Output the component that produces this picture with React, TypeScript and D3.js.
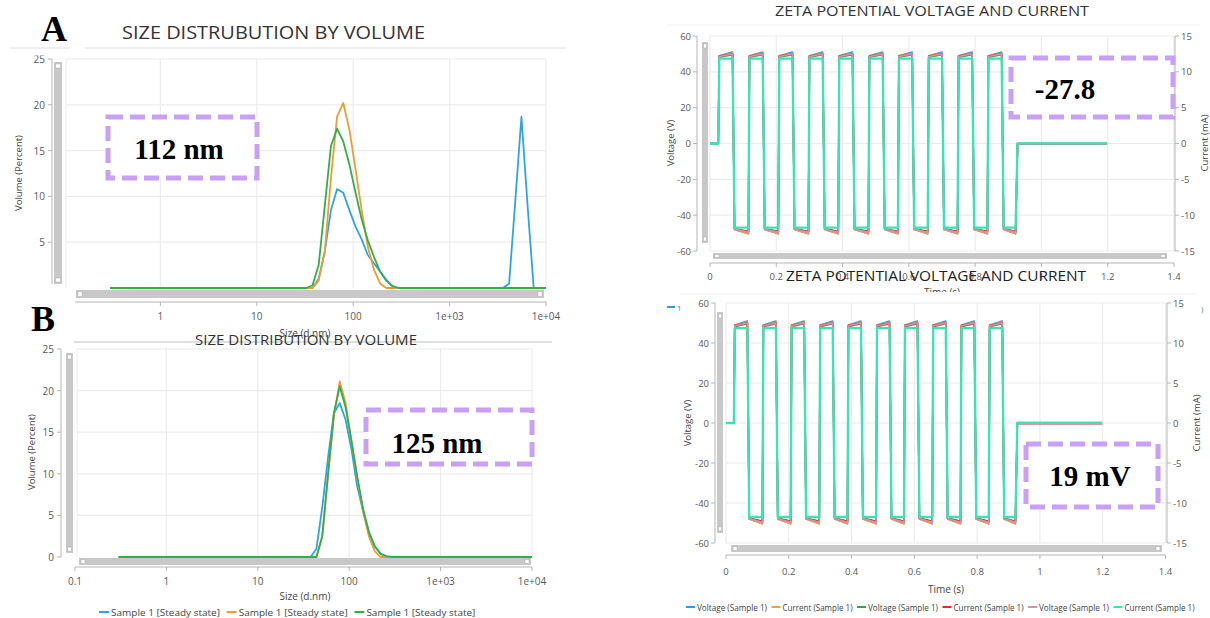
import React from 'react';
import * as d3 from 'd3';

// ---- size distribution by volume (DLS bins, d.nm) ----
const sizeBins = [0.3, 32.67, 37.84, 43.82, 50.75, 58.77, 68.06, 78.82, 91.28, 105.7, 122.4, 141.8, 164.2, 190.1, 220.2, 255.0, 295.3, 3580, 4145, 4801, 5560, 6439, 7456, 8635, 10000];
const volBlueA = [0, 0, 0, 1.0, 4.0, 8.5, 10.8, 10.4, 8.5, 6.7, 5.3, 3.6, 2.7, 1.8, 0.9, 0.2, 0, 0, 0.5, 9.5, 18.7, 9.0, 0, 0, 0];
const volOrangeA = [0, 0, 0, 0.8, 4.0, 12.0, 18.7, 20.2, 17.3, 13.0, 8.5, 4.5, 2.0, 0.5, 0, 0, 0, 0, 0, 0, 0, 0, 0, 0, 0];
const volGreenA = [0, 0, 0.3, 2.5, 9.0, 15.5, 17.4, 16.0, 13.5, 10.4, 7.5, 5.2, 3.4, 1.8, 0.8, 0.2, 0, 0, 0, 0, 0, 0, 0, 0, 0];
const volBlueB = [0, 0, 0, 1.0, 6.0, 12.0, 17.3, 18.5, 16.5, 13.0, 8.5, 5.5, 3.0, 1.3, 0.4, 0, 0, 0, 0, 0, 0, 0, 0, 0, 0];
const volOrangeB = [0, 0, 0, 0, 2.5, 10.0, 17.0, 21.1, 18.5, 14.0, 9.5, 5.5, 2.5, 0.7, 0, 0, 0, 0, 0, 0, 0, 0, 0, 0, 0];
const volGreenB = [0, 0, 0, 0, 2.5, 10.0, 17.3, 20.5, 18.0, 14.0, 9.7, 5.8, 3.0, 1.3, 0.4, 0.1, 0, 0, 0, 0, 0, 0, 0, 0, 0];
const sizeSeriesNames = ['Sample 1 [Steady state]', 'Sample 1 [Steady state]', 'Sample 1 [Steady state]'];
const sizeTicks = [0.1, 1, 10, 100, 1000, 10000];
const sizeTickLabels = ['0.1', '1', '10', '100', '1e+03', '1e+04'];
const volumeTicks = [0, 5, 10, 15, 20, 25];

// ---- zeta potential voltage and current ----
const riseTimes = [0.025, 0.116, 0.206, 0.297, 0.387, 0.478, 0.567, 0.657, 0.747, 0.837];
const fallTimes = [0.068, 0.159, 0.249, 0.340, 0.430, 0.521, 0.610, 0.700, 0.791, 0.880];
const offTime = 0.922;
const settleTime = 0.928;
const stopTime = 1.198;
const riseWidth = 0.003;
const fallWidth = 0.006;
const waveNames = ['Voltage (Sample 1)', 'Current (Sample 1)', 'Voltage (Sample 1)', 'Current (Sample 1)', 'Voltage (Sample 1)', 'Current (Sample 1)'];
const waveAxis = ['V', 'I', 'V', 'I', 'V', 'I'];
const highStart = [49.0, 12.2, 48.2, 12.2, 48.6, 11.85];
const highEnd = [51.0, 12.6, 49.6, 12.5, 50.0, 11.85];
const lowStart = [-48.0, -12.0, -47.6, -11.9, -47.8, -11.75];
const lowEnd = [-50.4, -12.6, -49.2, -12.3, -49.6, -11.75];
const restLevel = [0, 0, 0, -0.08, -0.3, 0.03];
const timeTicks = [0, 0.2, 0.4, 0.6, 0.8, 1, 1.2, 1.4];
const timeTickLabels = ['0', '0.2', '0.4', '0.6', '0.8', '1', '1.2', '1.4'];
const voltTicks = [-60, -40, -20, 0, 20, 40, 60];
const currTicks = [-15, -10, -5, 0, 5, 10, 15];

// ---- styles ----
const FONT = '"Open Sans", "Noto Sans", sans-serif';
const SERIF = '"Liberation Serif", "DejaVu Serif", serif';
const GRID = '#ececec';
const AXIS = '#b5b5b5';
const LABEL = '#595959';
const sizeColors = ['#2ea4e3', '#eb9e35', '#35ad4c'];
const waveColors = ['#2a9ee0', '#f0a040', '#2aa84a', '#e02a2e', '#e08ab0', '#38e6b4'];
const waveWidths = [1.6, 1.6, 1.6, 1.6, 1.6, 2.3];
const BOX = '#c9a0f7';

type Box = { x: number; y: number; w: number; h: number };

const Scrollbar = ({ b, vertical }: { b: Box; vertical?: boolean }) => (
  <g>
    <rect x={b.x} y={b.y} width={b.w} height={b.h} fill="#c8c8c8" />
    {vertical ? (
      <>
        <rect x={b.x + 1.5} y={b.y + 2} width={b.w - 3} height={4} fill="#fff" stroke="#aaa" strokeWidth={0.5} />
        <rect x={b.x + 1.5} y={b.y + b.h - 6} width={b.w - 3} height={4} fill="#fff" stroke="#aaa" strokeWidth={0.5} />
      </>
    ) : (
      <>
        <rect x={b.x + 2} y={b.y + 1.5} width={4} height={b.h - 3} fill="#fff" stroke="#aaa" strokeWidth={0.5} />
        <rect x={b.x + b.w - 6} y={b.y + 1.5} width={4} height={b.h - 3} fill="#fff" stroke="#aaa" strokeWidth={0.5} />
      </>
    )}
  </g>
);

const DashBox = ({ b, label, cx, cy }: { b: Box; label: string; cx: number; cy: number }) => (
  <g>
    <rect x={b.x} y={b.y} width={b.w} height={b.h} fill="#fff" stroke={BOX} strokeWidth={5} strokeDasharray="15 7" />
    <text x={cx} y={cy} textAnchor="middle" dominantBaseline="central" fontFamily={SERIF} fontWeight="bold" fontSize={29} fill="#000">
      {label}
    </text>
  </g>
);

interface SizeLayout {
  xr: [number, number];
  yr: [number, number];
  gridX0: number;
  yAxisX: number;
  yAxisBottom: number;
  yTickShow: number[];
  vScroll: Box;
  hScroll: Box;
  xAxisY: number;
  xAxisX0: number;
  xLabelY: number;
  xTickShow: number[];
  xTitle: [number, number];
  yTitle: [number, number];
}

const SizePanel = ({ L, series }: { L: SizeLayout; series: number[][] }) => {
  const x = d3.scaleLog().domain([0.1, 10000]).range(L.xr);
  const y = d3.scaleLinear().domain([0, 25]).range(L.yr);
  const line = d3.line<number>().x((_, i) => x(sizeBins[i])).y(d => y(d));
  return (
    <g fontFamily={FONT}>
      <line x1={L.gridX0} x2={L.gridX0} y1={L.yr[1]} y2={L.yr[0]} stroke={GRID} />
      {sizeTicks.filter(t => x(t) > L.gridX0 + 1).map(t => (
        <line key={'gx' + t} x1={x(t)} x2={x(t)} y1={L.yr[1]} y2={L.yr[0]} stroke={GRID} strokeWidth={1.2} />
      ))}
      {volumeTicks.filter(v => v > 0).map(v => (
        <line key={'gy' + v} x1={L.gridX0} x2={L.xr[1]} y1={y(v)} y2={y(v)} stroke={GRID} strokeWidth={1.2} />
      ))}
      {series.map((s, k) => (
        <path key={k} d={line(s) || ''} fill="none" stroke={sizeColors[k]} strokeWidth={1.8} strokeLinejoin="round" />
      ))}
      {/* y axis */}
      <line x1={L.yAxisX} x2={L.yAxisX} y1={L.yr[1]} y2={L.yAxisBottom} stroke={AXIS} />
      {L.yTickShow.map(v => (
        <g key={'yt' + v}>
          <line x1={L.yAxisX - 4} x2={L.yAxisX} y1={y(v)} y2={y(v)} stroke={AXIS} />
          <text x={L.yAxisX - 7} y={y(v)} textAnchor="end" dominantBaseline="central" fontSize={10} fill={LABEL}>{v}</text>
        </g>
      ))}
      <Scrollbar b={L.vScroll} vertical />
      <Scrollbar b={L.hScroll} />
      {/* x axis */}
      <line x1={L.xAxisX0} x2={L.xr[1]} y1={L.xAxisY} y2={L.xAxisY} stroke={AXIS} />
      {L.xTickShow.map(i => (
        <g key={'xt' + i}>
          <line x1={x(sizeTicks[i])} x2={x(sizeTicks[i])} y1={L.xAxisY} y2={L.xAxisY + 4} stroke={AXIS} />
          <text x={x(sizeTicks[i])} y={L.xLabelY} textAnchor="middle" dominantBaseline="central" fontSize={10} fill={LABEL}>{sizeTickLabels[i]}</text>
        </g>
      ))}
      <text x={L.xTitle[0]} y={L.xTitle[1]} textAnchor="middle" dominantBaseline="central" fontSize={10} fill="#444">Size (d.nm)</text>
      <text transform={`translate(${L.yTitle[0]},${L.yTitle[1]}) rotate(-90)`} textAnchor="middle" dominantBaseline="central" fontSize={9.5} fill="#444">Volume (Percent)</text>
    </g>
  );
};

const buildWave = (k: number): [number, number][] => {
  const pts: [number, number][] = [[0, 0], [riseTimes[0], 0]];
  riseTimes.forEach((r, i) => {
    pts.push([r + riseWidth, highStart[k]], [fallTimes[i], highEnd[k]], [fallTimes[i] + fallWidth, lowStart[k]]);
    const lowEndT = i < riseTimes.length - 1 ? riseTimes[i + 1] : offTime;
    pts.push([lowEndT, lowEnd[k]]);
  });
  pts.push([settleTime, restLevel[k]], [stopTime, restLevel[k]]);
  return pts;
};

interface ZetaLayout {
  xr: [number, number];
  yr: [number, number];
  yAxisX: number;
  rAxisX: number;
  vScroll: Box;
  hScroll: Box;
  xAxisY: number;
  xLabelY: number;
  xTitle: [number, number];
  yTitle: [number, number];
  rTitle: [number, number];
}

const ZetaPanel = ({ L }: { L: ZetaLayout }) => {
  const x = d3.scaleLinear().domain([0, 1.4]).range(L.xr);
  const yV = d3.scaleLinear().domain([-60, 60]).range(L.yr);
  const yI = d3.scaleLinear().domain([-15, 15]).range(L.yr);
  return (
    <g fontFamily={FONT}>
      {timeTicks.map(t => (
        <line key={'gx' + t} x1={x(t)} x2={x(t)} y1={L.yr[1]} y2={L.yr[0]} stroke={GRID} strokeWidth={1.2} />
      ))}
      {voltTicks.map(v => (
        <line key={'gy' + v} x1={L.xr[0]} x2={L.xr[1]} y1={yV(v)} y2={yV(v)} stroke={GRID} strokeWidth={1.2} />
      ))}
      {waveNames.map((_, k) => {
        const ys = waveAxis[k] === 'V' ? yV : yI;
        const line = d3.line<[number, number]>().x(d => x(d[0])).y(d => ys(d[1]));
        return <path key={k} d={line(buildWave(k)) || ''} fill="none" stroke={waveColors[k]} strokeWidth={waveWidths[k]} strokeLinejoin="round" />;
      })}
      {/* left axis */}
      <line x1={L.yAxisX} x2={L.yAxisX} y1={L.yr[1]} y2={L.yr[0]} stroke={AXIS} />
      {voltTicks.map(v => (
        <g key={'yl' + v}>
          <line x1={L.yAxisX - 4} x2={L.yAxisX} y1={yV(v)} y2={yV(v)} stroke={AXIS} />
          <text x={L.yAxisX - 6} y={yV(v)} textAnchor="end" dominantBaseline="central" fontSize={9.5} fill={LABEL}>{v}</text>
        </g>
      ))}
      {/* right axis */}
      <line x1={L.rAxisX} x2={L.rAxisX} y1={L.yr[1]} y2={L.yr[0]} stroke={AXIS} />
      {currTicks.map(v => (
        <g key={'yr' + v}>
          <line x1={L.rAxisX} x2={L.rAxisX + 4} y1={yI(v)} y2={yI(v)} stroke={AXIS} />
          <text x={L.rAxisX + 6} y={yI(v)} textAnchor="start" dominantBaseline="central" fontSize={9.5} fill={LABEL}>{v}</text>
        </g>
      ))}
      <Scrollbar b={L.vScroll} vertical />
      <Scrollbar b={L.hScroll} />
      <line x1={L.xr[0]} x2={L.xr[1]} y1={L.xAxisY} y2={L.xAxisY} stroke={AXIS} />
      {timeTicks.map((t, i) => (
        <g key={'xt' + t}>
          <line x1={x(t)} x2={x(t)} y1={L.xAxisY} y2={L.xAxisY + 4} stroke={AXIS} />
          <text x={x(t)} y={L.xLabelY} textAnchor="middle" dominantBaseline="central" fontSize={9.5} fill={LABEL}>{timeTickLabels[i]}</text>
        </g>
      ))}
      <text x={L.xTitle[0]} y={L.xTitle[1]} textAnchor="middle" dominantBaseline="central" fontSize={10} fill="#444">Time (s)</text>
      <text transform={`translate(${L.yTitle[0]},${L.yTitle[1]}) rotate(-90)`} textAnchor="middle" dominantBaseline="central" fontSize={9.5} fill="#444">Voltage (V)</text>
      <text transform={`translate(${L.rTitle[0]},${L.rTitle[1]}) rotate(-90)`} textAnchor="middle" dominantBaseline="central" fontSize={9.5} fill="#444">Current (mA)</text>
    </g>
  );
};

const layoutA: SizeLayout = {
  xr: [64, 546], yr: [288, 59], gridX0: 66, yAxisX: 52, yAxisBottom: 284, yTickShow: [5, 10, 15, 20, 25],
  vScroll: { x: 54, y: 62, w: 8, h: 222 }, hScroll: { x: 76, y: 290, w: 468, h: 8 },
  xAxisY: 302, xAxisX0: 75, xLabelY: 316, xTickShow: [1, 2, 3, 4, 5], xTitle: [305, 333], yTitle: [18, 173],
};
const layoutB: SizeLayout = {
  xr: [75, 532], yr: [557, 349], gridX0: 77, yAxisX: 61, yAxisBottom: 557, yTickShow: volumeTicks,
  vScroll: { x: 66, y: 353, w: 7, h: 200 }, hScroll: { x: 79, y: 558, w: 452, h: 7 },
  xAxisY: 567, xAxisX0: 75, xLabelY: 581, xTickShow: [0, 1, 2, 3, 4, 5], xTitle: [305, 596], yTitle: [31, 452],
};
const layoutTR: ZetaLayout = {
  xr: [710, 1174], yr: [251, 36], yAxisX: 697, rAxisX: 1175,
  vScroll: { x: 702, y: 42, w: 6, h: 201 }, hScroll: { x: 713, y: 253, w: 454, h: 6 },
  xAxisY: 263, xLabelY: 276, xTitle: [942, 292], yTitle: [670, 143], rTitle: [1204, 143],
};
const layoutBR: ZetaLayout = {
  xr: [726, 1165.5], yr: [543, 303], yAxisX: 715, rAxisX: 1167,
  vScroll: { x: 717, y: 312, w: 6, h: 221 }, hScroll: { x: 731, y: 545, w: 431, h: 7 },
  xAxisY: 555, xLabelY: 571, xTitle: [946, 589], yTitle: [687, 423], rTitle: [1196, 423],
};

const App = () => (
  <svg width={1210} height={618} style={{ position: 'absolute', left: 0, top: 0, background: '#fff' }}>
    <rect width={1210} height={618} fill="#fff" />

    {/* A */}
    <SizePanel L={layoutA} series={[volBlueA, volOrangeA, volGreenA]} />
    <rect x={0} y={40} width={66} height={15.5} fill="#fff" />
    <line x1={10} x2={70} y1={48} y2={48} stroke="#dcdcdc" />
    <line x1={85} x2={566} y1={48} y2={48} stroke="#dcdcdc" />
    <text x={122} y={32} dominantBaseline="central" fontFamily={FONT} fontSize={18} fill="#333" textLength={303} lengthAdjust="spacingAndGlyphs">SIZE DISTRUBUTION BY VOLUME</text>
    <text x={41} y={41} fontFamily={SERIF} fontWeight="bold" fontSize={36} fill="#000">A</text>
    <DashBox b={{ x: 108, y: 117, w: 149, h: 61 }} label="112 nm" cx={179} cy={149} />

    {/* B */}
    <SizePanel L={layoutB} series={[volBlueB, volOrangeB, volGreenB]} />
    <line x1={74} x2={552} y1={342} y2={342} stroke="#bdbdbd" />
    <text x={195} y={339} dominantBaseline="central" fontFamily={FONT} fontSize={14} fill="#333" textLength={222} lengthAdjust="spacingAndGlyphs">SIZE DISTRIBUTION BY VOLUME</text>
    <text x={31} y={331} fontFamily={SERIF} fontWeight="bold" fontSize={36} fill="#000">B</text>
    <DashBox b={{ x: 366, y: 410, w: 166, h: 54 }} label="125 nm" cx={437} cy={443} />
    <g fontFamily={FONT}>
      {sizeSeriesNames.map((n, k) => (
        <g key={k}>
          <line x1={99 + k * 127.7} x2={109 + k * 127.7} y1={612} y2={612} stroke={sizeColors[k]} strokeWidth={2} />
          <text x={111 + k * 127.7} y={612} dominantBaseline="central" fontSize={9.5} fill="#444" textLength={109} lengthAdjust="spacingAndGlyphs">{n}</text>
        </g>
      ))}
    </g>

    {/* top right */}
    <text x={775} y={10} dominantBaseline="central" fontFamily={FONT} fontSize={14} fill="#333" textLength={314} lengthAdjust="spacingAndGlyphs">ZETA POTENTIAL VOLTAGE AND CURRENT</text>
    <line x1={665} x2={1200} y1={25} y2={25} stroke="#f0f0f0" />
    <ZetaPanel L={layoutTR} />
    <DashBox b={{ x: 1011, y: 58, w: 162, h: 59 }} label="-27.8" cx={1065} cy={89} />

    {/* bottom right */}
    <rect x={640} y={292} width={570} height={326} fill="#fff" />
    <line x1={680} x2={1198} y1={294} y2={294} stroke="#f0f0f0" />
    <text x={786} y={275} dominantBaseline="central" fontFamily={FONT} fontSize={15} fill="#222" textLength={300} lengthAdjust="spacingAndGlyphs">ZETA POTENTIAL VOLTAGE AND CURRENT</text>
    <line x1={667} x2={675} y1={307} y2={307} stroke={waveColors[0]} strokeWidth={2} />
    <text x={677} y={307} dominantBaseline="central" fontFamily={FONT} fontSize={8} fill="#777">1</text>
    <text x={1201} y={308} dominantBaseline="central" fontFamily={FONT} fontSize={8} fill="#777">)</text>
    <ZetaPanel L={layoutBR} />
    <DashBox b={{ x: 1026, y: 444, w: 132, h: 63 }} label="19 mV" cx={1090} cy={476} />
    <g fontFamily={FONT}>
      {waveNames.map((n, k) => (
        <g key={k}>
          <line x1={686 + k * 85.5} x2={695 + k * 85.5} y1={607} y2={607} stroke={waveColors[k]} strokeWidth={2} />
          <text x={697 + k * 85.5} y={607} dominantBaseline="central" fontSize={9} fill="#444" textLength={70} lengthAdjust="spacingAndGlyphs">{n}</text>
        </g>
      ))}
    </g>
  </svg>
);

export default App;
